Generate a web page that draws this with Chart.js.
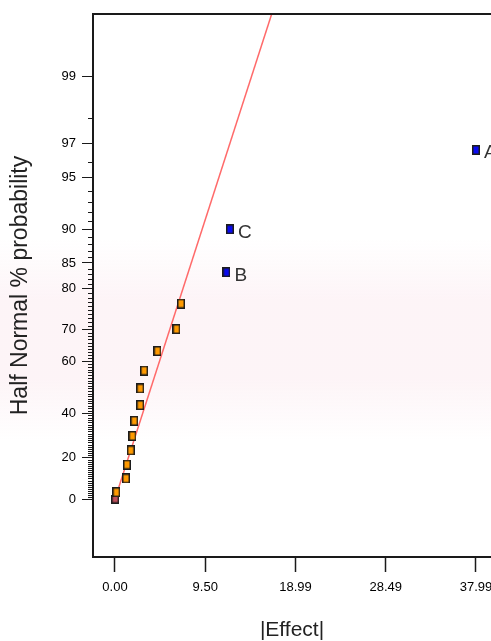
<!DOCTYPE html>
<html>
<head>
<meta charset="utf-8">
<script src="https://cdn.jsdelivr.net/npm/chart.js@4.4.1/dist/chart.umd.min.js"></script>
<style>
  html, body { margin: 0; padding: 0; background: #fff; }
  #wrap { width: 491px; height: 641px; }
</style>
</head>
<body>
<div id="wrap"><canvas id="halfnormal"></canvas></div>
<script>
// chosen effects: |effect| and half-normal probability (%)
const effectNames = ['A', 'C', 'B'];
const effectSizes = [37.99, 12.10, 11.73];
const effectProbs = [96.67, 90.00, 83.33];

// remaining estimates (used as error)
const errorSizes = [6.95, 6.47, 4.47, 3.07, 2.66, 2.66, 2.03, 1.84, 1.66, 1.26, 1.16, 0.14];
const errorProbs = [76.67, 70.00, 63.33, 56.67, 50.00, 43.33, 36.67, 30.00, 23.33, 16.67, 10.00, 3.33];

const originSize = [0.02];
const originProb = [0];

// reference line through the origin, runs out of the top of the frame
const fitSizes = [0, 16.49];
const fitProbs = [0, 99.69];

const xTicks = [0.00, 9.50, 18.99, 28.49, 37.99];
const yMajorTicks = [0, 20, 40, 60, 70, 80, 85, 90, 95, 97, 99];
const yMinorStep = 1;

const FONT = '"Liberation Sans", Arial, sans-serif';

// inverse normal cdf (Acklam)
function normInv(p) {
    const a = [-3.969683028665376e+01, 2.209460984245205e+02, -2.759285104469687e+02, 1.383577518672690e+02, -3.066479806614716e+01, 2.506628277459239e+00];
    const b = [-5.447609879822406e+01, 1.615858368580409e+02, -1.556989798598866e+02, 6.680131188771972e+01, -1.328068155288572e+01];
    const c = [-7.784894002430293e-03, -3.223964580411365e-01, -2.400758277161838e+00, -2.549732539343734e+00, 4.374664141464968e+00, 2.938163982698783e+00];
    const d = [7.784695709041462e-03, 3.224671290700398e-01, 2.445134137142996e+00, 3.754408661907416e+00];
    const pl = 0.02425;
    let q, r;
    if (p < pl) {
        q = Math.sqrt(-2 * Math.log(p));
        return (((((c[0] * q + c[1]) * q + c[2]) * q + c[3]) * q + c[4]) * q + c[5]) / ((((d[0] * q + d[1]) * q + d[2]) * q + d[3]) * q + 1);
    }
    if (p > 1 - pl) {
        q = Math.sqrt(-2 * Math.log(1 - p));
        return -(((((c[0] * q + c[1]) * q + c[2]) * q + c[3]) * q + c[4]) * q + c[5]) / ((((d[0] * q + d[1]) * q + d[2]) * q + d[3]) * q + 1);
    }
    q = p - 0.5;
    r = q * q;
    return (((((a[0] * r + a[1]) * r + a[2]) * r + a[3]) * r + a[4]) * r + a[5]) * q / (((((b[0] * r + b[1]) * r + b[2]) * r + b[3]) * r + b[4]) * r + 1);
}

function normCdf(z) {
    const t = 1 / (1 + 0.3275911 * Math.abs(z) / Math.SQRT2);
    const y = 1 - (((((1.061405429 * t - 1.453152027) * t) + 1.421413741) * t - 0.284496736) * t + 0.254829592) * t * Math.exp(-z * z / 2);
    return z >= 0 ? 0.5 * (1 + y) : 0.5 * (1 - y);
}

function halfNormalZ(pct) {
    return normInv(0.5 + pct / 200);
}

// probability axis: percent values placed on the half-normal quantile
class HalfNormalScale extends Chart.Scale {
    determineDataLimits() {
        this.min = this.options.min;
        this.max = this.options.max;
    }
    buildTicks() {
        return yMajorTicks.map(v => ({ value: v }));
    }
    getLabelForValue(v) {
        return String(v);
    }
    configure() {
        super.configure();
        this._zStart = halfNormalZ(this.min);
        this._zRange = halfNormalZ(this.max) - this._zStart;
    }
    getPixelForValue(v) {
        return this.getPixelForDecimal((halfNormalZ(v) - this._zStart) / this._zRange);
    }
    getValueForPixel(px) {
        const z = this._zStart + this.getDecimalForPixel(px) * this._zRange;
        return 200 * (normCdf(z) - 0.5);
    }
}
HalfNormalScale.id = 'halfNormal';
HalfNormalScale.defaults = {};
Chart.register(HalfNormalScale);

function squareMarker(fill, w, h) {
    const c = document.createElement('canvas');
    c.width = w;
    c.height = h;
    const g = c.getContext('2d');
    g.fillStyle = '#1c1c1c';
    g.fillRect(0, 0, w, h);
    g.fillStyle = fill;
    g.fillRect(1.5, 1.5, w - 3, h - 3);
    return c;
}

const haze = {
    id: 'haze',
    beforeDraw(chart) {
        const ctx = chart.ctx;
        const g = ctx.createLinearGradient(0, 240, 0, 440);
        g.addColorStop(0, 'rgba(250,228,235,0)');
        g.addColorStop(0.3, 'rgba(250,228,235,0.4)');
        g.addColorStop(0.7, 'rgba(250,228,235,0.4)');
        g.addColorStop(1, 'rgba(250,228,235,0)');
        ctx.save();
        ctx.fillStyle = g;
        ctx.fillRect(0, 240, chart.width, 200);
        ctx.restore();
    }
};

// short ticks at every percent between the labelled ones, plus the top frame line
const frame = {
    id: 'frame',
    afterDraw(chart) {
        const ctx = chart.ctx;
        const y = chart.scales.y;
        const area = chart.chartArea;
        ctx.save();
        ctx.strokeStyle = '#1a1a1a';
        ctx.lineWidth = 1;
        ctx.beginPath();
        for (let p = yMinorStep; p < 99; p += yMinorStep) {
            if (yMajorTicks.includes(p)) continue;
            const py = Math.round(y.getPixelForValue(p)) + 0.5;
            ctx.moveTo(area.left - 5, py);
            ctx.lineTo(area.left, py);
        }
        ctx.stroke();
        ctx.lineWidth = 2;
        ctx.beginPath();
        ctx.moveTo(area.left - 1, area.top);
        ctx.lineTo(area.right, area.top);
        ctx.stroke();
        ctx.restore();
    }
};

const effectLabels = {
    id: 'effectLabels',
    afterDatasetsDraw(chart) {
        const meta = chart.getDatasetMeta(0);
        const ctx = chart.ctx;
        ctx.save();
        ctx.font = '19px ' + FONT;
        ctx.fillStyle = '#333';
        ctx.textBaseline = 'middle';
        meta.data.forEach((pt, i) => {
            ctx.fillText(effectNames[i], pt.x + 8, pt.y + 3);
        });
        ctx.restore();
    }
};

const zip = (xs, ys) => xs.map((x, i) => ({ x: x, y: ys[i] }));

new Chart(document.getElementById('halfnormal'), {
    type: 'scatter',
    data: {
        datasets: [{
            label: 'effects',
            data: zip(effectSizes, effectProbs),
            pointStyle: squareMarker('#0a0af0', 8, 10),
            pointRadius: 5,
            order: 0
        }, {
            label: 'error',
            data: zip(errorSizes, errorProbs),
            pointStyle: squareMarker('#ff9a00', 8, 10),
            pointRadius: 5,
            order: 1
        }, {
            label: 'origin',
            data: zip(originSize, originProb),
            pointStyle: squareMarker('#c0505c', 8, 9),
            pointRadius: 5,
            order: 1
        }, {
            type: 'line',
            label: 'fit',
            data: zip(fitSizes, fitProbs),
            borderColor: '#ff6a6a',
            borderWidth: 1.5,
            pointRadius: 0,
            fill: false,
            order: 3
        }]
    },
    options: {
        responsive: true,
        maintainAspectRatio: false,
        devicePixelRatio: 1,
        animation: false,
        layout: {
            autoPadding: false,
            padding: { top: 14, right: 0, bottom: 0, left: 0 }
        },
        plugins: {
            legend: { display: false },
            tooltip: { enabled: false }
        },
        scales: {
            x: {
                type: 'linear',
                position: 'bottom',
                min: -2.315,
                max: 39.57,
                afterBuildTicks(s) { s.ticks = xTicks.map(v => ({ value: v })); },
                afterFit(s) {
                    s.height = 84;
                    s.paddingLeft = 0;
                    s.paddingRight = 0;
                },
                border: { display: true, color: '#1a1a1a', width: 2 },
                grid: { drawOnChartArea: false, drawTicks: true, tickLength: 15, tickColor: '#1a1a1a', tickWidth: 1.5 },
                ticks: {
                    autoSkip: false,
                    maxRotation: 0,
                    padding: 8,
                    color: '#000',
                    font: { family: FONT, size: 13 },
                    callback: v => Number(v).toFixed(2)
                },
                title: {
                    display: true,
                    text: '|Effect|',
                    color: '#222',
                    font: { family: FONT, size: 21, lineHeight: 1 },
                    padding: { top: 0, bottom: 0 }
                }
            },
            y: {
                type: 'halfNormal',
                position: 'left',
                min: -27.6,
                max: 99.69,
                afterFit(s) {
                    s.width = 93;
                    s.paddingTop = 0;
                    s.paddingBottom = 0;
                },
                border: { display: true, color: '#1a1a1a', width: 2 },
                grid: { drawOnChartArea: false, drawTicks: true, tickLength: 11, tickColor: '#1a1a1a', tickWidth: 1 },
                ticks: {
                    autoSkip: false,
                    padding: 6,
                    color: '#000',
                    font: { family: FONT, size: 13 },
                    callback: v => String(v)
                },
                title: {
                    display: true,
                    text: 'Half Normal % probability',
                    color: '#222',
                    font: { family: FONT, size: 23, lineHeight: 1 },
                    padding: { top: 9, bottom: 0 }
                }
            }
        }
    },
    plugins: [haze, frame, effectLabels]
});
</script>
</body>
</html>
